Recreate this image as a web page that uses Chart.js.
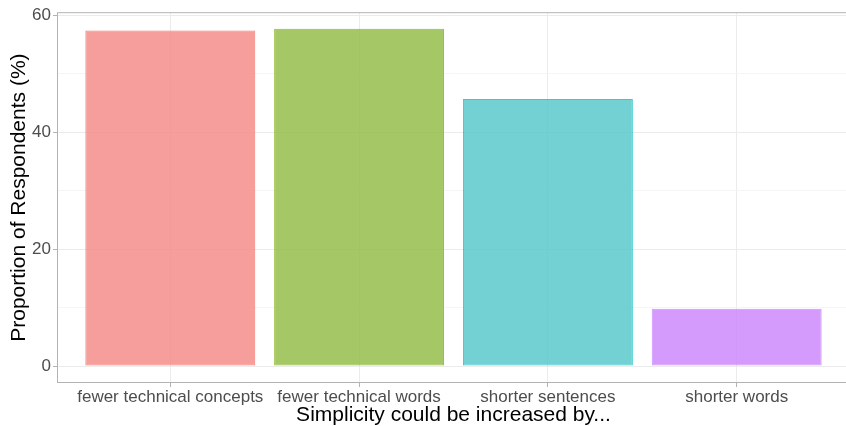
<!DOCTYPE html>
<html>
<head>
<meta charset="utf-8">
<script src="https://cdn.jsdelivr.net/npm/chart.js@4.4.1/dist/chart.umd.min.js"></script>
<style>
  html, body { margin: 0; padding: 0; background: #fff; overflow: hidden; }
  canvas { display: block; }
</style>
</head>
<body>
<canvas id="barChart" width="860" height="426"></canvas>
<script>
const categories = ['fewer technical concepts', 'fewer technical words', 'shorter sentences', 'shorter words'];
const proportions = [57.4, 57.7, 45.7, 9.8];
const fillColours = ['rgba(244, 141, 137, 0.85)', 'rgba(149, 189, 75, 0.85)', 'rgba(92, 201, 203, 0.85)', 'rgba(204, 136, 252, 0.85)'];
const lineColours = ['rgba(248, 118, 109, 0.9)', 'rgba(124, 174, 0, 0.8)', 'rgba(0, 191, 196, 0.8)', 'rgba(199, 124, 255, 0.8)'];
const yTicks = [0, 10, 20, 30, 40, 50, 60];
const yLabelled = [0, 20, 40, 60];

const fontFamily = '"Liberation Sans", Arial, sans-serif';

// panel border drawn on top, like ggplot's theme_light
const panelBorder = {
    id: 'panelBorder',
    afterDatasetsDraw(chart) {
        const { ctx, chartArea } = chart;
        ctx.save();
        ctx.strokeStyle = '#B3B3B3';
        ctx.lineWidth = 1;
        ctx.strokeRect(chartArea.left + 0.5, chartArea.top + 0.5,
            chartArea.right - chartArea.left - 1, chartArea.bottom - chartArea.top - 1);
        ctx.restore();
    }
};

const ctx = document.getElementById('barChart').getContext('2d');
new Chart(ctx, {
    type: 'bar',
    data: {
        datasets: [{
            data: proportions.map((v, i) => ({ x: i + 1, y: v })),
            backgroundColor: fillColours,
            borderColor: lineColours,
            borderWidth: 1,
            borderSkipped: false,
            inflateAmount: 0,
            barPercentage: 0.9,
            categoryPercentage: 1.0
        }]
    },
    options: {
        responsive: false,
        animation: false,
        layout: { padding: { top: 11, right: 10, left: 0, bottom: 0 } },
        plugins: {
            legend: { display: false },
            tooltip: { enabled: false }
        },
        scales: {
            x: {
                type: 'linear',
                min: 0.4,
                max: 4.6,
                offset: false,
                afterBuildTicks: scale => {
                    scale.ticks = categories.map((c, i) => ({ value: i + 1 }));
                },
                afterFit: scale => { scale.height = 43; },
                border: { display: false },
                grid: {
                    offset: false,
                    color: '#EBEBEB',
                    lineWidth: 1,
                    tickColor: '#B3B3B3',
                    tickLength: 4
                },
                ticks: {
                    color: '#4D4D4D',
                    font: { family: fontFamily, size: 17, lineHeight: 1.0 },
                    padding: 2,
                    maxRotation: 0,
                    autoSkip: false,
                    callback: v => categories[v - 1]
                },
                title: {
                    display: true,
                    text: 'Simplicity could be increased by...',
                    color: '#000',
                    font: { family: fontFamily, size: 21, lineHeight: 1.0 },
                    padding: { top: 0, bottom: 0 }
                }
            },
            y: {
                min: -2.89,
                max: 60.55,
                afterBuildTicks: scale => {
                    scale.ticks = yTicks.map(v => ({ value: v }));
                },
                afterFit: scale => { scale.width = 57; },
                border: { display: false },
                grid: {
                    color: c => yLabelled.includes(c.tick.value) ? '#EBEBEB' : '#F5F5F5',
                    lineWidth: 1,
                    tickColor: c => yLabelled.includes(c.tick.value) ? '#B3B3B3' : 'rgba(0,0,0,0)',
                    tickLength: 4
                },
                ticks: {
                    color: '#4D4D4D',
                    font: { family: fontFamily, size: 17 },
                    padding: 2,
                    callback: v => yLabelled.includes(v) ? v : ''
                },
                title: {
                    display: true,
                    text: 'Proportion of Respondents (%)',
                    color: '#000',
                    font: { family: fontFamily, size: 21, lineHeight: 1.0 },
                    padding: { top: 9, bottom: 0 }
                }
            }
        }
    },
    plugins: [panelBorder]
});
</script>
</body>
</html>
